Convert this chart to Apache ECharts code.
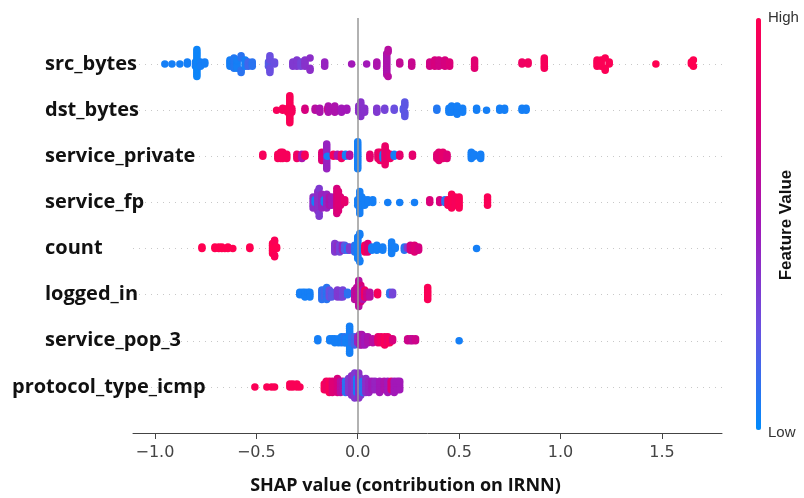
<!DOCTYPE html>
<html>
<head>
<meta charset="utf-8">
<script src="https://cdn.jsdelivr.net/npm/echarts@6/dist/echarts.min.js"></script>
<style>
  html, body { margin: 0; padding: 0; background: #fff; }
  #chart { width: 804px; height: 498px; }
</style>
</head>
<body>
<div id="chart"></div>
<script>
// features, top to bottom
const features = ['src_bytes', 'dst_bytes', 'service_private', 'service_fp',
  'count', 'logged_in', 'service_pop_3', 'protocol_type_icmp'];

const xTicks = [-1.0, -0.5, 0.0, 0.5, 1.0, 1.5];

// each point: [shap value, feature value (0 low .. 1 high), how many samples]
const srcBytes = [
  [-0.951, 0.05, 1], [-0.916, 0.05, 1], [-0.877, 0.05, 1], [-0.84, 0.05, 2], [-0.80, 0.05, 3],
  [-0.793, 0.03, 11], [-0.775, 0.05, 3], [-0.754, 0.05, 2],
  [-0.63, 0.05, 4], [-0.61, 0.08, 6], [-0.595, 0.05, 5], [-0.575, 0.1, 4], [-0.555, 0.05, 4],
  [-0.54, 0.15, 3], [-0.52, 0.1, 3],
  [-0.44, 0.2, 3], [-0.433, 0.25, 6], [-0.41, 0.25, 2],
  [-0.32, 0.35, 3], [-0.30, 0.35, 4], [-0.28, 0.3, 3], [-0.26, 0.38, 4], [-0.235, 0.4, 3],
  [-0.163, 0.45, 3], [-0.03, 0.5, 1],
  [0.044, 0.5, 1], [0.094, 0.55, 3], [0.143, 0.55, 11], [0.15, 0.6, 3],
  [0.207, 0.65, 2], [0.266, 0.68, 3],
  [0.355, 0.72, 3], [0.38, 0.75, 4], [0.40, 0.72, 4], [0.43, 0.75, 4], [0.453, 0.78, 3],
  [0.576, 0.82, 5],
  [0.81, 0.9, 2], [0.84, 0.92, 2], [0.92, 0.95, 6],
  [1.18, 0.97, 4], [1.20, 0.98, 4], [1.22, 0.98, 3], [1.24, 0.98, 2],
  [1.47, 1.0, 1], [1.645, 1.0, 2], [1.655, 1.0, 2]
];
const dstBytes = [
  [-0.40, 0.95, 1], [-0.37, 0.95, 2], [-0.345, 0.95, 3], [-0.335, 0.97, 14], [-0.325, 0.95, 3],
  [-0.26, 0.75, 2], [-0.21, 0.6, 2], [-0.187, 0.55, 3], [-0.148, 0.9, 2], [-0.145, 0.55, 4],
  [-0.113, 0.55, 4], [-0.08, 0.5, 3], [-0.054, 0.5, 2],
  [0.005, 0.4, 4], [0.015, 0.38, 8], [0.034, 0.38, 3], [0.094, 0.35, 3], [0.133, 0.3, 2],
  [0.18, 0.25, 2], [0.225, 0.2, 2], [0.232, 0.22, 6],
  [0.39, 0.08, 2], [0.45, 0.05, 3], [0.463, 0.05, 4], [0.49, 0.05, 5], [0.517, 0.05, 3],
  [0.586, 0.05, 2], [0.635, 0.05, 1], [0.70, 0.05, 2], [0.724, 0.05, 2], [0.81, 0.05, 2], [0.83, 0.05, 2]
];
const servicePrivate = [
  [-0.468, 0.95, 2], [-0.394, 0.95, 3], [-0.38, 0.95, 4], [-0.37, 0.95, 4], [-0.35, 0.95, 3],
  [-0.30, 0.9, 3], [-0.275, 0.55, 3], [-0.26, 0.95, 2],
  [-0.177, 0.8, 5], [-0.153, 0.45, 13], [-0.15, 0.05, 1], [-0.12, 0.95, 2], [-0.1, 0.55, 2],
  [-0.08, 0.9, 3], [-0.06, 0.05, 2], [-0.04, 0.6, 2],
  [0.0, 0.05, 14], [0.06, 0.85, 3],
  [0.10, 0.85, 4], [0.11, 0.9, 5], [0.125, 0.05, 3], [0.135, 0.88, 10], [0.143, 0.85, 4], [0.16, 0.9, 3],
  [0.18, 0.05, 2], [0.207, 0.85, 2], [0.27, 0.85, 2],
  [0.39, 0.8, 3], [0.40, 0.82, 5], [0.42, 0.85, 4], [0.44, 0.8, 3],
  [0.56, 0.05, 4], [0.575, 0.05, 2], [0.606, 0.05, 3]
];
const serviceFp = [
  [-0.22, 0.4, 5], [-0.21, 0.05, 2], [-0.197, 0.4, 8], [-0.19, 0.35, 3], [-0.177, 0.45, 6],
  [-0.165, 0.05, 2], [-0.153, 0.45, 6], [-0.14, 0.55, 4], [-0.128, 0.5, 4],
  [-0.103, 0.75, 10], [-0.095, 0.8, 8], [-0.085, 0.8, 4], [-0.064, 0.85, 2],
  [0.0, 0.05, 3], [0.01, 0.05, 9], [0.02, 0.05, 4], [0.034, 0.05, 3], [0.05, 0.05, 2],
  [0.074, 0.05, 2], [0.148, 0.05, 1], [0.207, 0.05, 1], [0.28, 0.05, 1],
  [0.355, 0.78, 2], [0.404, 0.75, 2], [0.43, 0.1, 2], [0.445, 0.95, 3], [0.463, 0.97, 6],
  [0.48, 0.95, 4], [0.50, 0.97, 5], [0.64, 0.97, 4]
];
const countVals = [
  [-0.768, 1, 2], [-0.704, 1, 2], [-0.685, 1, 2], [-0.67, 1, 2], [-0.655, 1, 1], [-0.64, 1, 2],
  [-0.616, 1, 1], [-0.532, 1, 2], [-0.42, 1, 7], [-0.41, 0.97, 4], [-0.40, 1, 2],
  [-0.113, 0.35, 6], [-0.10, 0.4, 4], [-0.089, 0.3, 5], [-0.075, 0.45, 4], [-0.064, 0.2, 4],
  [-0.05, 0.1, 3], [-0.04, 0.35, 3], [-0.015, 0.1, 5], [0.0, 0.05, 14], [0.01, 0.05, 4],
  [0.035, 0.95, 5], [0.05, 0.8, 6], [0.07, 0.05, 3], [0.094, 0.05, 4], [0.123, 0.05, 3],
  [0.167, 0.05, 8], [0.185, 0.05, 2],
  [0.23, 0.1, 3], [0.245, 0.35, 2], [0.26, 0.75, 4], [0.28, 0.8, 5], [0.30, 0.75, 3],
  [0.586, 0.05, 1]
];
const loggedIn = [
  [-0.286, 0.05, 2], [-0.272, 0.05, 2], [-0.26, 0.05, 3], [-0.245, 0.05, 2], [-0.236, 0.05, 3],
  [-0.177, 0.1, 5], [-0.165, 0.15, 4], [-0.153, 0.1, 6], [-0.14, 0.25, 4], [-0.128, 0.2, 3],
  [-0.10, 0.35, 4], [-0.085, 0.35, 3], [-0.074, 0.3, 4], [-0.05, 0.1, 2],
  [-0.015, 0.6, 5], [-0.005, 0.65, 6], [0.005, 0.6, 12], [0.015, 0.75, 8], [0.025, 0.55, 5],
  [0.034, 0.9, 4], [0.045, 0.7, 3], [0.06, 0.6, 3],
  [0.098, 0.95, 2], [0.158, 0.1, 2], [0.172, 0.3, 2],
  [0.345, 0.97, 6]
];
const servicePop3 = [
  [-0.197, 0.05, 2], [-0.138, 0.05, 2], [-0.125, 0.05, 2], [-0.113, 0.05, 3], [-0.095, 0.05, 3],
  [-0.08, 0.05, 4], [-0.065, 0.1, 4], [-0.06, 0.05, 3], [-0.04, 0.05, 14], [-0.03, 0.1, 4],
  [-0.015, 0.15, 5],
  [0.0, 0.45, 4], [0.01, 0.5, 6], [0.02, 0.55, 6], [0.035, 0.5, 5], [0.05, 0.55, 4], [0.074, 0.6, 3],
  [0.10, 0.85, 4], [0.115, 0.9, 4], [0.133, 0.95, 5], [0.148, 0.9, 4], [0.158, 0.95, 3], [0.172, 0.75, 2],
  [0.246, 0.7, 2], [0.26, 0.7, 2], [0.27, 0.65, 2], [0.285, 0.7, 2],
  [0.50, 0.05, 1]
];
const protocolIcmp = [
  [-0.507, 0.97, 1], [-0.448, 0.97, 1], [-0.425, 0.97, 1], [-0.41, 0.97, 1], [-0.335, 0.97, 2],
  [-0.32, 0.97, 2], [-0.30, 0.97, 2], [-0.285, 0.97, 1],
  [-0.165, 0.95, 3], [-0.155, 0.9, 4], [-0.14, 0.95, 5], [-0.125, 0.8, 5], [-0.10, 0.75, 6],
  [-0.085, 0.6, 5], [-0.074, 0.55, 4], [-0.06, 0.1, 5], [-0.045, 0.35, 6],
  [-0.03, 0.4, 8], [-0.015, 0.35, 10], [-0.005, 0.05, 6], [0.005, 0.4, 10], [0.015, 0.35, 7],
  [0.025, 0.1, 5], [0.04, 0.4, 6], [0.055, 0.45, 5], [0.07, 0.5, 4], [0.085, 0.45, 4],
  [0.108, 0.5, 5], [0.13, 0.55, 4], [0.148, 0.5, 5], [0.165, 0.8, 4], [0.18, 0.5, 5],
  [0.195, 0.5, 4], [0.207, 0.5, 4]
];

const rows = [srcBytes, dstBytes, servicePrivate, serviceFp, countVals, loggedIn, servicePop3, protocolIcmp];

// shap-style beeswarm: bin the x values, then stack the points of a bin up and down
function swarm(points, rowPos) {
  const xs = [], cs = [];
  points.forEach(([x, c, n]) => {
    for (let k = 0; k < n; k++) { xs.push(x); cs.push(c); }
  });
  const nbins = 100, rowHeight = 0.4;
  const lo = Math.min(...xs), hi = Math.max(...xs);
  const quant = xs.map(x => Math.round(nbins * (x - lo) / (hi - lo + 1e-8)));
  const order = xs.map((_, i) => i).sort((a, b) => quant[a] - quant[b] || a - b);
  const ys = new Array(xs.length).fill(0);
  let layer = 0, lastBin = -1;
  order.forEach(i => {
    if (quant[i] !== lastBin) layer = 0;
    ys[i] = Math.ceil(layer / 2) * ((layer % 2) * 2 - 1);
    layer++;
    lastBin = quant[i];
  });
  const scale = 0.9 * rowHeight / Math.max(...ys.map(y => y + 1));
  return xs.map((x, i) => [x, rowPos + ys[i] * scale, cs[i]]);
}

let points = [];
rows.forEach((r, i) => { points = points.concat(swarm(r, features.length - 1 - i)); });

const chart = echarts.init(document.getElementById('chart'));

const labelRich = {
  n: { fontFamily: 'Open Sans', fontWeight: 'bold', fontSize: 20, color: '#111', padding: [0, 0, 0, 33] },
  w: { fontFamily: 'Open Sans', fontWeight: 'bold', fontSize: 20, color: '#111' }
};

chart.setOption({
  backgroundColor: '#fff',
  animation: false,
  grid: { left: 133, right: 82, top: 18, bottom: 65, outerBoundsMode: 'none', containLabel: false },
  xAxis: {
    type: 'value',
    min: -1.108,
    max: 1.796,
    name: 'SHAP value (contribution on IRNN)',
    nameLocation: 'middle',
    nameGap: 44,
    nameTextStyle: {
      fontFamily: 'Open Sans', fontWeight: 'bold', fontSize: 18, color: '#111',
      padding: [0, 44, 0, 0]
    },
    axisLine: { show: true, onZero: false, lineStyle: { color: '#444', width: 1 } },
    axisTick: { show: true, length: 6, lineStyle: { color: '#444' }, customValues: xTicks },
    axisLabel: {
      customValues: xTicks,
      margin: 12,
      fontFamily: 'DejaVu Sans',
      fontSize: 16,
      color: '#444',
      formatter: v => v.toFixed(1).replace('-', '\u2212')
    },
    splitLine: { show: false }
  },
  yAxis: {
    type: 'value',
    min: -1,
    max: 8,
    interval: 1,
    axisLine: { show: false },
    axisTick: { show: false },
    axisLabel: {
      align: 'left',
      margin: 121,
      rich: labelRich,
      formatter: v => {
        const name = features[features.length - 1 - v];
        if (!name) return '';
        return name.length > 16 ? '{w|' + name + '}' : '{n|' + name + '}';
      }
    },
    splitLine: {
      show: true,
      showMinLine: false,
      showMaxLine: false,
      lineStyle: { color: '#c8c8c8', width: 1, type: [1, 5] }
    }
  },
  visualMap: {
    type: 'continuous',
    dimension: 2,
    min: 0,
    max: 1,
    calculable: false,
    orient: 'vertical',
    left: 741,
    top: 3,
    itemWidth: 5,
    itemHeight: 412,
    text: null,
    inRange: { color: ['#008bfb', '#6a4fe0', '#a218b8', '#d6007e', '#ff0051'] }
  },
  graphic: [
    { type: 'text', left: 768, top: 10, style: { text: 'High', font: '15px "Liberation Sans"', fill: '#333' } },
    { type: 'text', left: 768, top: 425, style: { text: 'Low', font: '15px "Liberation Sans"', fill: '#333' } },
    {
      type: 'text', x: 786, y: 225, rotation: Math.PI / 2,
      style: { text: 'Feature Value', font: 'bold 17px "Liberation Sans"', fill: '#111', align: 'center', verticalAlign: 'middle' }
    }
  ],
  series: [
    {
      type: 'scatter',
      z: 1,
      silent: true,
      data: [],
      markLine: {
        silent: true,
        symbol: 'none',
        label: { show: false },
        lineStyle: { color: '#999', width: 1.5, type: 'solid' },
        data: [{ xAxis: 0 }]
      }
    },
    {
      type: 'scatter',
      z: 3,
      symbolSize: 7.5,
      itemStyle: { opacity: 1 },
      data: points
    }
  ]
});
</script>
</body>
</html>
